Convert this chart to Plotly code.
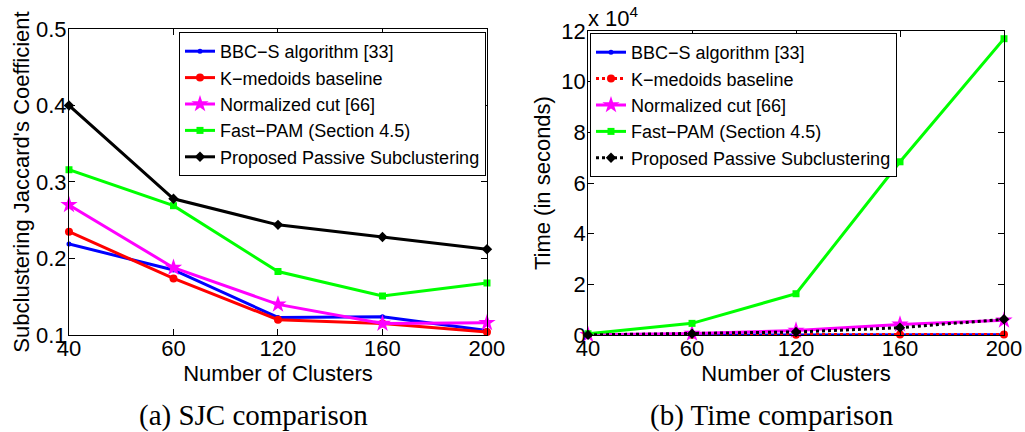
import plotly.graph_objects as go

clusters = ["40", "60", "120", "160", "200"]

# SJC values (left panel)
sjc_bbcs = [0.219, 0.185, 0.123, 0.124, 0.106]
sjc_kmed = [0.235, 0.174, 0.120, 0.115, 0.104]
sjc_ncut = [0.270, 0.188, 0.140, 0.115, 0.116]
sjc_fpam = [0.316, 0.269, 0.183, 0.151, 0.168]
sjc_prop = [0.400, 0.278, 0.244, 0.228, 0.212]

# Time values in seconds (right panel)
t_bbcs = [20, 40, 60, 80, 100]
t_kmed = [50, 100, 150, 200, 250]
t_ncut = [100, 600, 1800, 4200, 5800]
t_fpam = [500, 4600, 16300, 68400, 117000]
t_prop = [50, 500, 1200, 2900, 6200]

names = ["BBC−S algorithm [33]", "K−medoids baseline", "Normalized cut [66]",
         "Fast−PAM (Section 4.5)", "Proposed Passive Subclustering"]
colors = ["#0000FF", "#FF0000", "#FF00FF", "#00FF00", "#000000"]
symbols = ["circle", "circle", "star", "square", "diamond"]
msizes = [5, 8, 13, 7, 8]

time_ticks = [0, 20000, 40000, 60000, 80000, 100000, 120000]
time_ticktext = ["0", "2", "4", "6", "8", "10", "12"]

fig = go.Figure()

left_series = [sjc_bbcs, sjc_kmed, sjc_ncut, sjc_fpam, sjc_prop]
right_series = [t_bbcs, t_kmed, t_ncut, t_fpam, t_prop]
left_dash = ["solid"] * 5
right_dash = ["solid", "dot", "solid", "solid", "dot"]

for i in range(5):
    fig.add_trace(go.Scatter(
        x=clusters, y=left_series[i], name=names[i], mode="lines+markers",
        line=dict(color=colors[i], width=3, dash=left_dash[i]),
        marker=dict(color=colors[i], symbol=symbols[i], size=msizes[i]),
        cliponaxis=False, xaxis="x", yaxis="y", legend="legend"))
for i in range(5):
    fig.add_trace(go.Scatter(
        x=clusters, y=right_series[i], name=names[i], mode="lines+markers",
        line=dict(color=colors[i], width=3, dash=right_dash[i]),
        marker=dict(color=colors[i], symbol=symbols[i], size=msizes[i]),
        cliponaxis=False, xaxis="x2", yaxis="y2", legend="legend2"))

SANS = "Liberation Sans, Arial, sans-serif"
tickfont = dict(family=SANS, size=22, color="black")
axcommon = dict(showline=True, linecolor="black", linewidth=1, mirror="ticks",
                ticks="inside", ticklen=6, tickcolor="black", showgrid=False,
                zeroline=False, tickfont=tickfont, automargin=False)
legfont = dict(family=SANS, size=18, color="black")

fig.update_layout(
    width=1025, height=432, margin=dict(l=0, r=0, t=0, b=0),
    paper_bgcolor="white", plot_bgcolor="white",
    xaxis=dict(domain=[0.0673, 0.4751], type="category", range=[0, 4], anchor="y",
               title=dict(text="Number of Clusters", font=tickfont, standoff=0),
               ticklabelstandoff=-6, **axcommon),
    yaxis=dict(domain=[0.2245, 0.933], range=[0.1, 0.5], anchor="x",
               tickvals=[0.1, 0.2, 0.3, 0.4, 0.5], ticktext=["0.1", "0.2", "0.3", "0.4", "0.5"],
               ticklabelstandoff=-3,
               title=dict(text="Subclustering Jaccard's Coefficient", font=tickfont, standoff=0),
               **axcommon),
    xaxis2=dict(domain=[0.5737, 0.9795], type="category", range=[0, 4], anchor="y2",
                title=dict(text="Number of Clusters", font=tickfont, standoff=0),
                ticklabelstandoff=-6, **axcommon),
    yaxis2=dict(domain=[0.2245, 0.928], range=[0, 120000], anchor="x2",
                tickvals=time_ticks, ticktext=time_ticktext,
                ticklabelstandoff=-3,
                title=dict(text="Time (in seconds)", font=tickfont, standoff=4),
                **axcommon),
    legend=dict(x=179 / 1025, y=(432 - 32) / 432, xanchor="left", yanchor="top",
                bgcolor="white", bordercolor="black", borderwidth=1,
                font=legfont, tracegroupgap=0, itemwidth=30),
    legend2=dict(x=590 / 1025, y=(432 - 33) / 432, xanchor="left", yanchor="top",
                 bgcolor="white", bordercolor="black", borderwidth=1,
                 font=legfont, tracegroupgap=0, itemwidth=30),
    annotations=[
        dict(text="x 10<sup>4</sup>", x=586 / 1025, y=(432 - 33) / 432, xref="paper", yref="paper",
             xanchor="left", yanchor="bottom", showarrow=False,
             font=dict(family=SANS, size=22, color="black")),
        dict(text="(a) SJC comparison", x=253 / 1025, y=(432 - 415) / 432, xref="paper", yref="paper",
             xanchor="center", yanchor="middle", showarrow=False,
             font=dict(family="Liberation Serif, Times New Roman, serif", size=29, color="black")),
        dict(text="(b) Time comparison", x=772 / 1025, y=(432 - 415) / 432, xref="paper", yref="paper",
             xanchor="center", yanchor="middle", showarrow=False,
             font=dict(family="Liberation Serif, Times New Roman, serif", size=29, color="black")),
    ],
)

fig.write_html("out.html")
